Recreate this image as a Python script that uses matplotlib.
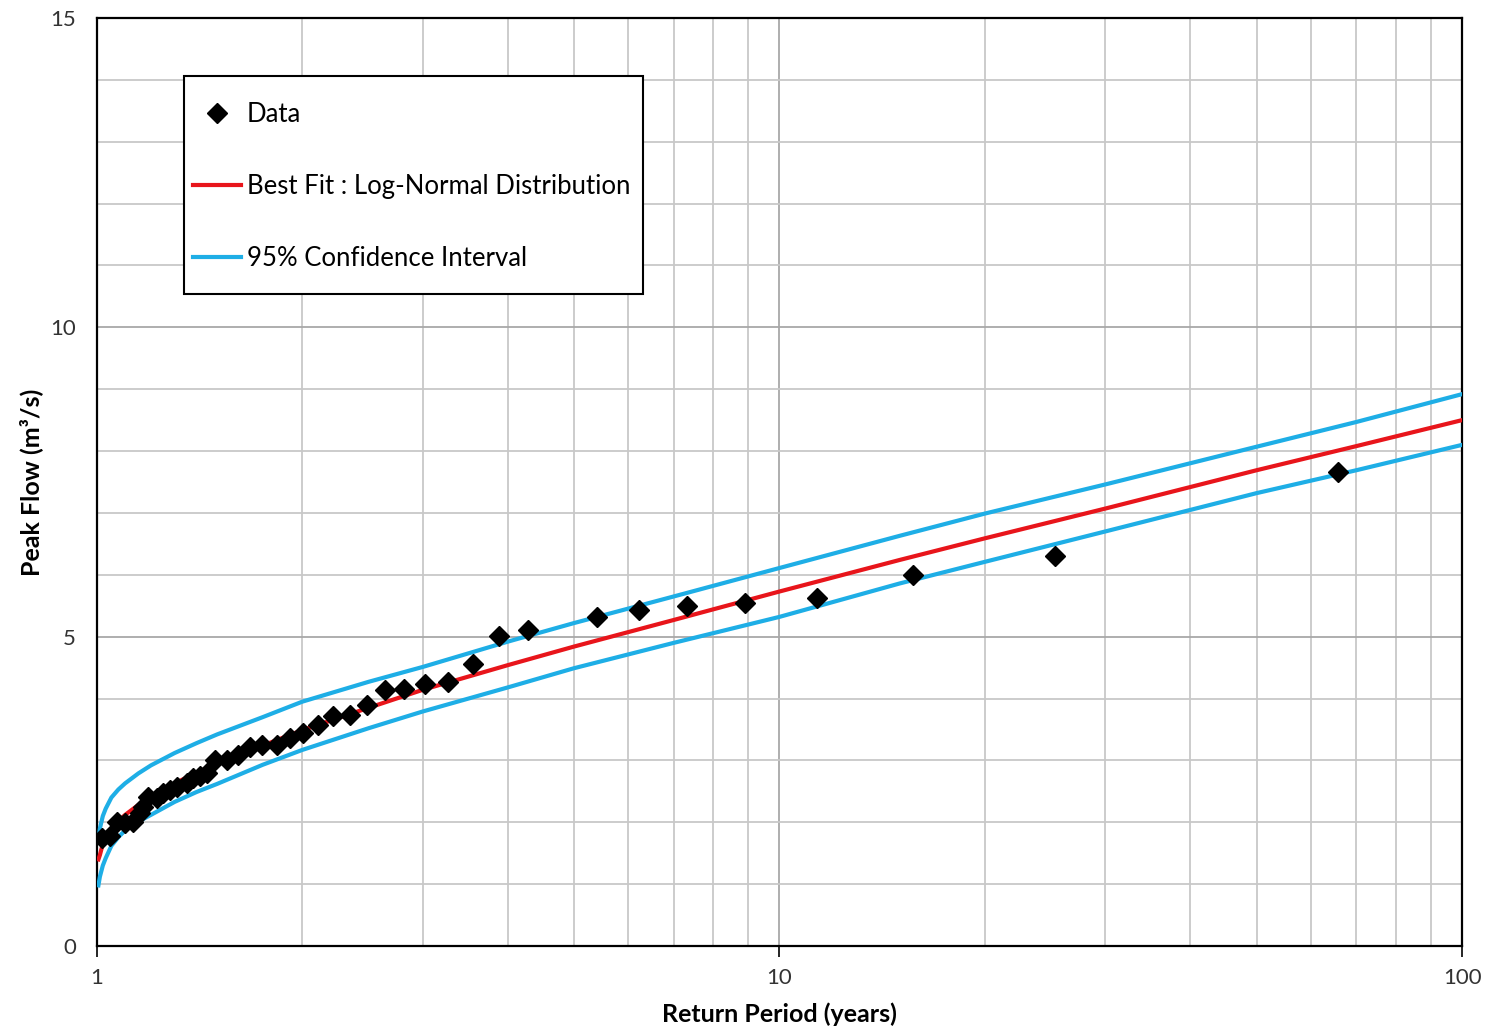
import matplotlib
matplotlib.use("Agg")
import matplotlib.pyplot as plt
from matplotlib.patches import Rectangle
from matplotlib.ticker import FixedLocator, NullFormatter

plt.rcParams['font.family'] = ['Lato', 'DejaVu Sans']

# observed peak flows (return period in years, flow in m3/s)
data_T = [1.016, 1.045, 1.069, 1.099, 1.130, 1.156, 1.169, 1.189, 1.223, 1.251,
          1.279, 1.309, 1.353, 1.384, 1.415, 1.448, 1.489, 1.549, 1.611, 1.676,
          1.743, 1.834, 1.918, 2.006, 2.110, 2.220, 2.348, 2.485, 2.642, 2.818,
          3.024, 3.271, 3.555, 3.886, 4.284, 5.397, 6.233, 7.328, 8.912, 11.36,
          15.69, 25.33, 65.8]
data_Q = [1.74, 1.78, 2.01, 1.99, 2.01, 2.15, 2.25, 2.41, 2.39, 2.47,
          2.52, 2.57, 2.63, 2.72, 2.74, 2.80, 3.01, 3.01, 3.09, 3.22,
          3.25, 3.25, 3.36, 3.44, 3.57, 3.71, 3.73, 3.90, 4.14, 4.15,
          4.23, 4.26, 4.56, 5.01, 5.10, 5.32, 5.43, 5.50, 5.54, 5.63,
          6.00, 6.30, 7.66]

# fitted curve and confidence band
curve_T = [1.005, 1.01, 1.02, 1.03, 1.05, 1.075, 1.1, 1.15, 1.2, 1.3, 1.4, 1.5,
           1.75, 2, 2.5, 3, 4, 5, 7, 10, 15, 20, 30, 50, 70, 100]
fit_Q = [1.40, 1.47, 1.65, 1.75, 1.90, 2.02, 2.12, 2.28, 2.42, 2.63, 2.80, 2.95,
         3.24, 3.49, 3.85, 4.14, 4.54, 4.84, 5.27, 5.73, 6.24, 6.59, 7.07, 7.69, 8.08, 8.50]
upper_Q = [1.72, 1.90, 2.10, 2.22, 2.40, 2.53, 2.63, 2.79, 2.92, 3.12, 3.28, 3.42,
           3.70, 3.95, 4.27, 4.51, 4.92, 5.22, 5.65, 6.11, 6.63, 6.99, 7.46, 8.07, 8.47, 8.92]
lower_Q = [0.98, 1.12, 1.30, 1.42, 1.62, 1.76, 1.87, 2.01, 2.12, 2.33, 2.49, 2.62,
           2.93, 3.17, 3.52, 3.79, 4.18, 4.49, 4.90, 5.32, 5.86, 6.21, 6.70, 7.32, 7.69, 8.10]

fig = plt.figure(figsize=(14.89, 10.34), dpi=100)
ax = fig.add_axes([0.0651, 0.0851, 0.9168, 0.8975])

ax.plot(data_T, data_Q, linestyle='none', marker='D', markersize=10,
        color='black', label='Data', zorder=4)
ax.plot(curve_T, fit_Q, color='#e8151b', lw=3, label='Best Fit : Log-Normal Distribution', zorder=3)
ax.plot(curve_T, upper_Q, color='#1eaee6', lw=3, label='95% Confidence Interval', zorder=3)
ax.plot(curve_T, lower_Q, color='#1eaee6', lw=3, zorder=3)

ax.set_xscale('log')
ax.set_xlim(1, 100)
ax.set_ylim(0, 15)
ax.set_xticks([1, 10, 100])
ax.set_xticklabels(['1', '10', '100'])
ax.xaxis.set_minor_locator(FixedLocator([2, 3, 4, 5, 6, 7, 8, 9, 20, 30, 40, 50, 60, 70, 80, 90]))
ax.xaxis.set_minor_formatter(NullFormatter())
ax.set_yticks([0, 5, 10, 15])
ax.yaxis.set_minor_locator(FixedLocator([1, 2, 3, 4, 6, 7, 8, 9, 11, 12, 13, 14]))

ax.grid(True, which='major', color='#a8a8a8', lw=1.3)
ax.grid(True, which='minor', color='#c8c8c8', lw=1.3)
ax.set_axisbelow(True)

ax.tick_params(which='major', length=8, width=1.2, labelsize=16, pad=8, colors='black')
ax.tick_params(axis='y', which='major', length=0, pad=15)
ax.tick_params(which='minor', length=0)
for lbl in ax.get_xticklabels() + ax.get_yticklabels():
    lbl.set_color('#333333')
for s in ax.spines.values():
    s.set_linewidth(1.6)
    s.set_color('black')

ax.set_xlabel('Return Period (years)', fontsize=18, fontweight='bold', labelpad=10)
ax.set_ylabel('Peak Flow (m³/s)', fontsize=18, fontweight='bold', labelpad=5)

# legend frame drawn separately so the inner padding can differ per side
frame = Rectangle((0.0637, 0.7026), 0.3363, 0.2349, transform=ax.transAxes,
                  facecolor='white', edgecolor='black', lw=1.5, zorder=5)
ax.add_patch(frame)
leg = ax.legend(loc='upper left', bbox_to_anchor=(0.0637, 0.9192), fontsize=18.5,
                frameon=False, labelspacing=1.83, handlelength=1.87,
                handletextpad=0.23, borderpad=0.36, borderaxespad=0)
leg.set_zorder(6)

fig.savefig('out.png', dpi=100)
